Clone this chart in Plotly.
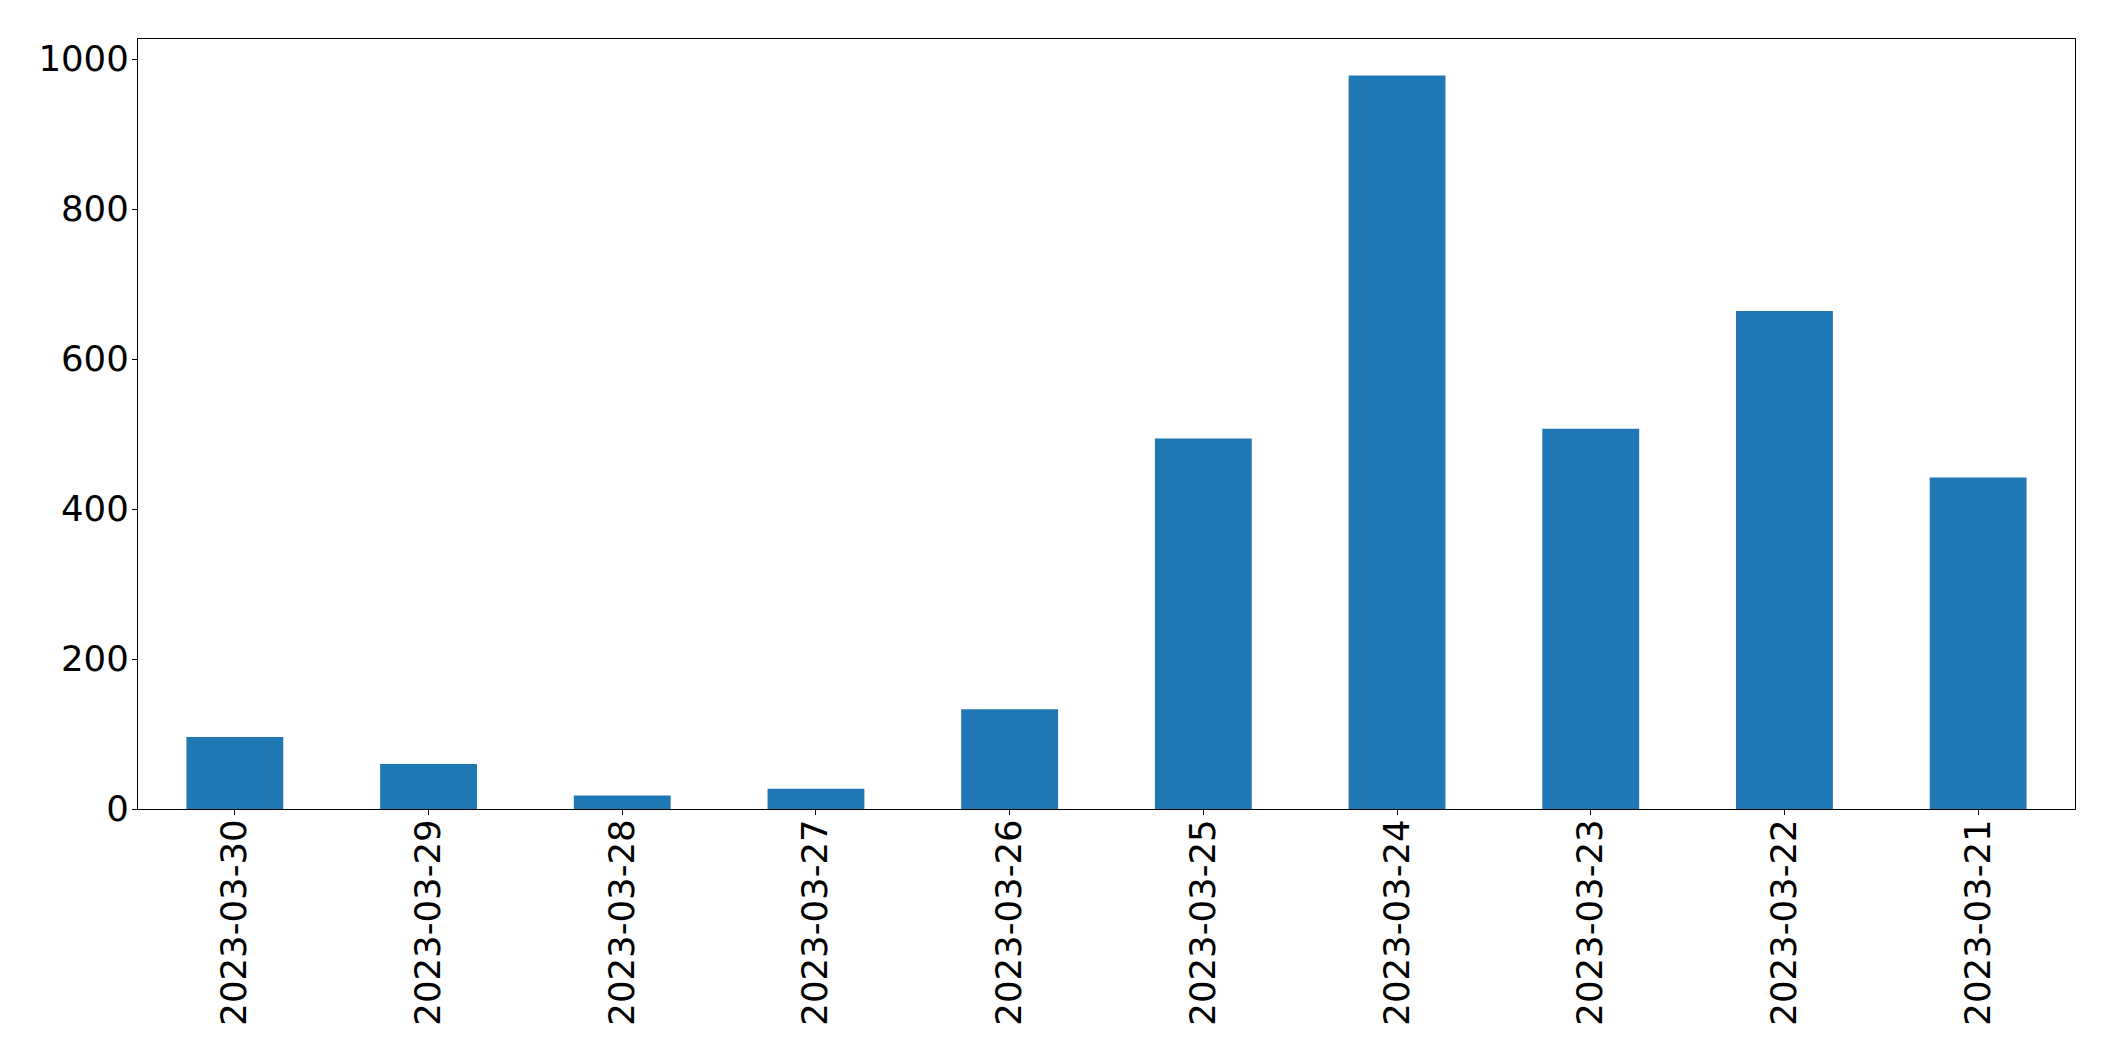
import plotly.graph_objects as go

dates = ["2023-03-30", "2023-03-29", "2023-03-28", "2023-03-27", "2023-03-26",
         "2023-03-25", "2023-03-24", "2023-03-23", "2023-03-22", "2023-03-21"]
counts = [96, 60, 18, 27, 133, 494, 978, 507, 664, 442]
y_ticks = [0, 200, 400, 600, 800, 1000]

fig = go.Figure(go.Bar(x=dates, y=counts, width=0.5, marker_color="#1f77b4",
                       marker_line_width=0))

axis_common = dict(showline=True, linecolor="black", linewidth=1.3, mirror=True,
                   ticks="outside", ticklen=5, tickwidth=1.3, tickcolor="black",
                   showgrid=False, zeroline=False,
                   tickfont=dict(family="DejaVu Sans", size=35.5, color="black"))

fig.update_layout(
    width=2115, height=1061,
    margin=dict(l=138, r=40, t=39, b=252, autoexpand=False),
    paper_bgcolor="white", plot_bgcolor="white",
    showlegend=False,
    xaxis=dict(type="category", range=[-0.5, 9.5], tickangle=-90,
               ticklabelstandoff=-10, **axis_common),
    yaxis=dict(range=[0, 1026.7], tickvals=y_ticks, ticklabelstandoff=-4, **axis_common),
)

fig.write_html("out.html")
